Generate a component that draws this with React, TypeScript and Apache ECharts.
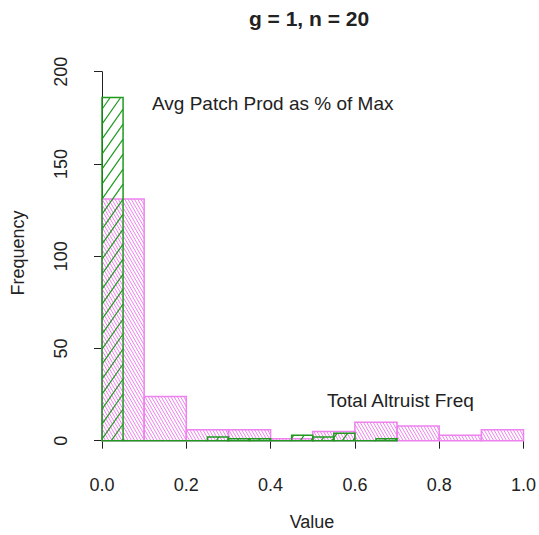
import React, { useEffect, useRef } from "react";
import * as echarts from "echarts";

const titleText = "g = 1, n = 20";
const xTicks = [0, 0.2, 0.4, 0.6, 0.8, 1.0];
const yTicks = [0, 50, 100, 150, 200];
const altruistBreaks = [0, 0.1, 0.2, 0.3, 0.4, 0.5, 0.6, 0.7, 0.8, 0.9, 1.0];
const altruistCounts = [131, 24, 6, 6, 1, 5, 10, 8, 3, 6];
const patchBreaks = [0, 0.05, 0.1, 0.15, 0.2, 0.25, 0.3, 0.35, 0.4, 0.45, 0.5, 0.55, 0.6, 0.65, 0.7];
const patchCounts = [186, 0, 0, 0, 0, 2, 1, 1, 0, 3, 2, 4, 0, 1];

const PINK = "#ee82ee";
const GREEN = "#1f9a1f";
const INK = "#222222";

function binsOf(breaks: number[], counts: number[]) {
  return counts.map((c, i) => [breaks[i], breaks[i + 1], c]);
}

function hatchLines(x0: number, y0: number, x1: number, y1: number, angleDeg: number, spacing: number) {
  const th = (angleDeg * Math.PI) / 180;
  const dx = Math.cos(th), dy = -Math.sin(th);
  const nx = Math.sin(th), ny = Math.cos(th);
  const corners = [[x0, y0], [x1, y0], [x0, y1], [x1, y1]];
  const cs = corners.map(([x, y]) => x * nx + y * ny);
  const cmin = Math.min(...cs), cmax = Math.max(...cs);
  const segs: number[][] = [];
  for (let k = Math.ceil(cmin / spacing); k * spacing <= cmax; k++) {
    const c = k * spacing;
    const px = c * nx, py = c * ny;
    let tmin = -Infinity, tmax = Infinity;
    if (Math.abs(dx) > 1e-9) {
      let ta = (x0 - px) / dx, tb = (x1 - px) / dx;
      if (ta > tb) [ta, tb] = [tb, ta];
      tmin = Math.max(tmin, ta); tmax = Math.min(tmax, tb);
    } else if (px < x0 || px > x1) continue;
    if (Math.abs(dy) > 1e-9) {
      let ta = (y0 - py) / dy, tb = (y1 - py) / dy;
      if (ta > tb) [ta, tb] = [tb, ta];
      tmin = Math.max(tmin, ta); tmax = Math.min(tmax, tb);
    } else if (py < y0 || py > y1) continue;
    if (tmax - tmin > 0.5) segs.push([px + tmin * dx, py + tmin * dy, px + tmax * dx, py + tmax * dy]);
  }
  return segs;
}

function histRenderer(color: string, angle: number, spacing: number, hatchWidth: number) {
  return (params: any, api: any) => {
    const a = api.coord([api.value(0), api.value(2)]);
    const b = api.coord([api.value(1), 0]);
    const x0 = a[0], y0 = a[1], x1 = b[0], y1 = b[1];
    const children: any[] = [];
    if (y1 - y0 > 1) {
      hatchLines(x0, y0, x1, y1, angle, spacing).forEach((s) => {
        children.push({
          type: "line",
          shape: { x1: s[0], y1: s[1], x2: s[2], y2: s[3] },
          style: { stroke: color, lineWidth: hatchWidth },
        });
      });
    }
    children.push({
      type: "rect",
      shape: { x: x0, y: y0, width: x1 - x0, height: y1 - y0 },
      style: { fill: "none", stroke: color, lineWidth: 1.5 },
    });
    return { type: "group", children };
  };
}

export default function App() {
  const ref = useRef<HTMLDivElement>(null);
  useEffect(() => {
    if (!ref.current) return;
    const chart = echarts.init(ref.current, undefined, { renderer: "svg" });
    const font = "'Liberation Sans', Arial, Helvetica, sans-serif";
    chart.setOption({
      animation: false,
      backgroundColor: "#ffffff",
      textStyle: { fontFamily: font },
      grid: { left: 102, right: 14, top: 71.7, bottom: 94.3 },
      xAxis: {
        type: "value",
        min: xTicks[0],
        max: xTicks[xTicks.length - 1],
        interval: 0.2,
        offset: 15,
        splitLine: { show: false },
        axisLine: { show: true, lineStyle: { color: INK, width: 1 } },
        axisTick: { show: true, length: 8, lineStyle: { color: INK } },
        axisLabel: {
          fontSize: 18,
          color: INK,
          margin: 20,
          fontFamily: font,
          formatter: (v: number) => v.toFixed(1),
        },
      },
      yAxis: {
        type: "value",
        min: yTicks[0],
        max: yTicks[yTicks.length - 1],
        interval: 50,
        offset: 17,
        splitLine: { show: false },
        axisLine: { show: true, lineStyle: { color: INK, width: 1 } },
        axisTick: { show: true, length: 8, lineStyle: { color: INK } },
        axisLabel: { fontSize: 18, color: INK, margin: 15, rotate: 90, fontFamily: font },
      },
      series: [
        {
          type: "custom",
          name: "Total Altruist Freq",
          renderItem: histRenderer(PINK, 120, 2.8, 1),
          encode: { x: [0, 1], y: 2 },
          data: binsOf(altruistBreaks, altruistCounts),
          z: 2,
        },
        {
          type: "custom",
          name: "Avg Patch Prod as % of Max",
          renderItem: histRenderer(GREEN, 55, 8.6, 1.2),
          encode: { x: [0, 1], y: 2 },
          data: binsOf(patchBreaks, patchCounts),
          z: 3,
        },
      ],
      graphic: [
        {
          type: "text",
          style: {
            text: titleText,
            x: 309,
            y: 18,
            textAlign: "center",
            textVerticalAlign: "middle",
            font: `bold 21px ${font}`,
            fill: INK,
          },
        },
        {
          type: "text",
          style: {
            text: "Value",
            x: 312,
            y: 522,
            textAlign: "center",
            textVerticalAlign: "middle",
            font: `18px ${font}`,
            fill: INK,
          },
        },
        {
          type: "text",
          x: 18,
          y: 253,
          rotation: Math.PI / 2,
          style: {
            text: "Frequency",
            x: 0,
            y: 0,
            textAlign: "center",
            textVerticalAlign: "middle",
            font: `18px ${font}`,
            fill: INK,
          },
        },
        {
          type: "text",
          style: {
            text: "Avg Patch Prod as % of Max",
            x: 152,
            y: 103,
            textAlign: "left",
            textVerticalAlign: "middle",
            font: `19px ${font}`,
            fill: INK,
          },
        },
        {
          type: "text",
          style: {
            text: "Total Altruist Freq",
            x: 327,
            y: 400,
            textAlign: "left",
            textVerticalAlign: "middle",
            font: `19px ${font}`,
            fill: INK,
          },
        },
      ],
    });
    return () => chart.dispose();
  }, []);
  return (
    <div
      ref={ref}
      style={{ position: "fixed", left: 0, top: 0, width: 539, height: 535 }}
    />
  );
}
